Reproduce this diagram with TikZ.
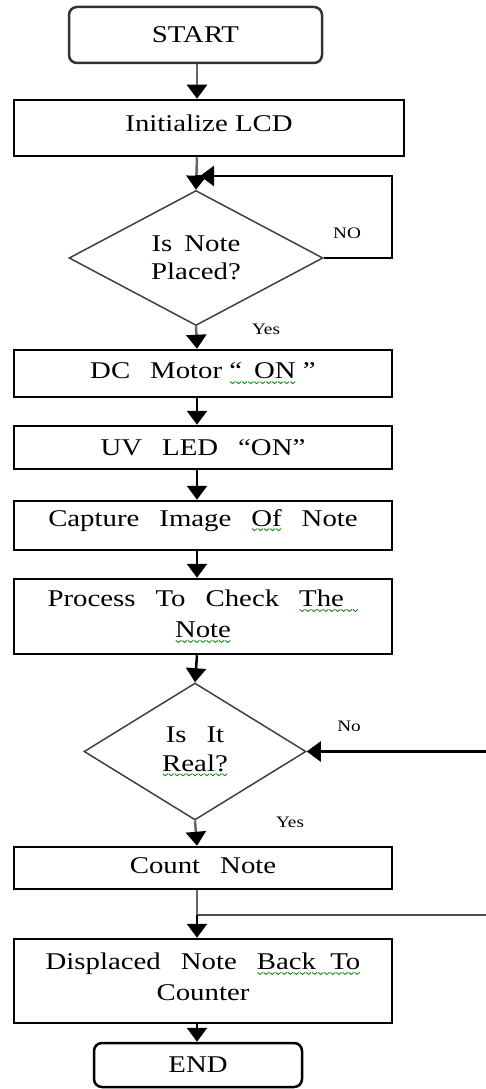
\documentclass[tikz,border=0pt]{standalone}
\usepackage{fontspec}
\setmainfont{Liberation Serif}[FakeStretch=1.2]
\usetikzlibrary{shapes.geometric,arrows.meta}
\definecolor{squig}{RGB}{0,128,0}
\newsavebox\zzbox
\newcommand\gsq[1]{\setbox0=\hbox{#1}\rlap{\lower5pt\hbox to \wd0{\xleaders\copy\zzbox\hfil}}\box0\relax}
\newcommand\gp{\hspace{20pt}}
\newcommand\mf{\fontsize{24}{31}\selectfont}
\newcommand\df{\fontsize{24}{28.5}\selectfont}
\newcommand\lf{\fontsize{16}{19}\selectfont}
\begin{document}
\sbox\zzbox{\pgfpicture\pgfsetlinewidth{0.8pt}\pgfsetstrokecolor{squig}\pgfpathmoveto{\pgfpoint{0pt}{2pt}}\pgfpathlineto{\pgfpoint{2.5pt}{0pt}}\pgfpathlineto{\pgfpoint{5pt}{2pt}}\pgfusepath{stroke}\endpgfpicture}%
\begin{tikzpicture}[x=1pt,y=-1pt,
  box/.style={draw=black, line width=2.5pt, minimum width=378pt, inner sep=0pt, align=center, font=\mf},
  term/.style={draw=black!80, line width=2.5pt, rounded corners=8pt, inner sep=0pt, align=center, font=\mf},
  dec/.style={diamond, draw=black!75, line width=1.5pt, inner sep=0pt, align=center, font=\df},
  arr/.style={line width=2.5pt, -{Triangle[width=20pt,length=14pt,color=black]}},
  garr/.style={arr, draw=black!60},
  ln/.style={line width=2.5pt},
  lab/.style={font=\lf, inner sep=0pt}
]
\useasboundingbox (0,0) rectangle (486,1089);
\coordinate (ax) at (197,0);
% nodes
\node[term, minimum width=253pt, minimum height=56pt] (start) at (195.5,35) {START};
\node[box, minimum width=390pt, minimum height=56pt, text height=17pt, text depth=10pt] (init) at (209,128) {Initialize LCD};
\node[dec, minimum width=254pt, minimum height=135pt] (d1) at (196,258) {Is\hspace{12pt}Note\\Placed?};
\node[box, minimum height=47pt] (dc) at (203,373.5) {DC\gp Motor \gsq{“\hspace{12pt}ON} ”};
\node[box, minimum height=43pt] (uv) at (203,447.5) {UV\gp LED\gp “ON”};
\node[box, minimum height=49pt, text height=17pt, text depth=16pt] (cap) at (203,525.5) {Capture\gp Image\gp \gsq{Of}\gp Note};
\node[box, minimum height=75pt] (proc) at (203,616.5) {Process\gp To\gp Check\gp \gsq{The\ \ }\\\gsq{Note}};
\node[dec, minimum width=222pt, minimum height=137pt] (d2) at (195,751.5) {Is\gp It\\\gsq{Real?}};
\node[box, minimum height=42pt, text height=17pt, text depth=6pt] (count) at (203,868) {Count\gp Note};
\node[box, minimum height=84pt, text depth=8pt] (disp) at (203,981) {Displaced\gp Note\gp \gsq{Back\ \ To}\\Counter};
\node[term, draw=black, minimum width=208pt, minimum height=44pt] (end) at (198,1065) {END};
% labels
\node[lab] (no1) at (347,233) {NO};
\node[lab] (yes1) at (266,329) {Yes};
\node[lab] (no2) at (349,726) {No};
\node[lab] (yes2) at (290,822) {Yes};
% helper coordinates
\coordinate (j1) at (197,176);
\coordinate (lp) at (392,258);
\coordinate (lq) at (392,176);
\coordinate (rin) at (486,751.5);
\coordinate (br) at (197,915);
\coordinate (rout) at (486,915);
% connectors
\draw[garr] (start.south -| ax) -- (init.north -| ax);
\draw[garr] (init.south -| ax) -- (d1.north);
\draw[ln] (d1.east) -- (lp) -- (lq) -- (j1 -| d1.north);
\draw[arr] (lq) -- ([xshift=3pt]j1);
\draw[garr] (d1.south) -- (dc.north -| ax);
\draw[arr] (dc.south -| ax) -- (uv.north -| ax);
\draw[arr] (uv.south -| ax) -- (cap.north -| ax);
\draw[arr] (cap.south -| ax) -- (proc.north -| ax);
\draw[arr] (proc.south -| ax) -- (d2.north);
\draw[arr] (rin) -- (d2.east);
\draw[garr] (d2.south) -- (count.north -| ax);
\draw[ln, draw=black!60] (count.south -| ax) -- (br);
\draw[line width=2pt, draw=black!70] (br) -- (rout);
\draw[arr] (br) -- (disp.north -| ax);
\draw[arr] (disp.south -| ax) -- (end.north -| ax);
\end{tikzpicture}
\end{document}
